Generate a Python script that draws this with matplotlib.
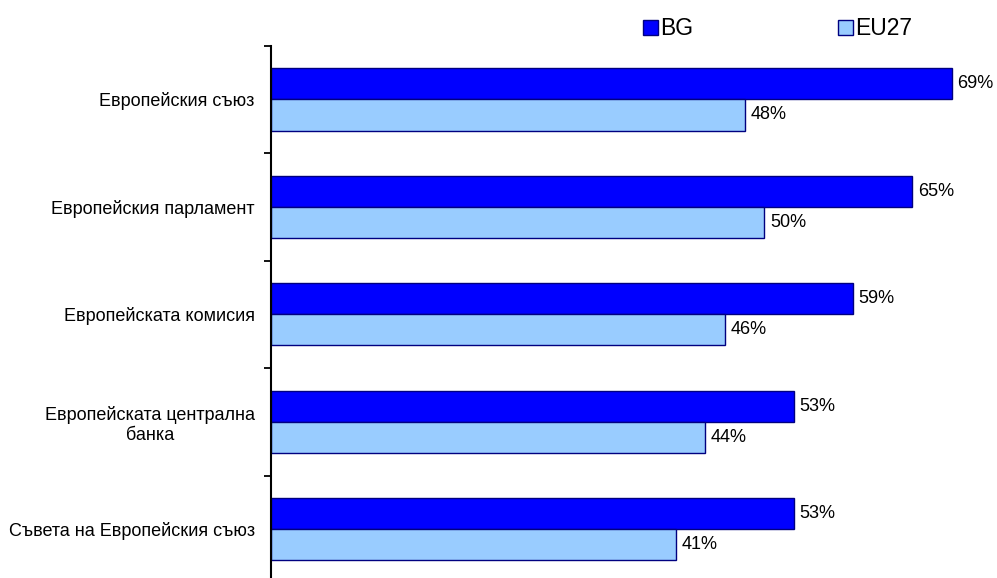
import matplotlib
matplotlib.use('Agg')
import matplotlib.pyplot as plt
import numpy as np

# data
categories = ['Европейския съюз', 'Европейския парламент', 'Европейската комисия',
              'Европейската централна\nбанка', 'Съвета на Европейския съюз']
bg = [69, 65, 59, 53, 53]
eu27 = [48, 50, 46, 44, 41]
series_names = ['BG', 'EU27']

plt.rcParams['font.family'] = ['Liberation Sans', 'DejaVu Sans']
fs = 13

fig = plt.figure(figsize=(9.97, 5.78), dpi=100)
ax = fig.add_axes([0.2723, -0.0086, 0.712, 0.9296])

y = np.arange(len(categories))
h = 0.29
b1 = ax.barh(y - h / 2, bg, height=h, color='#0000FF', edgecolor='#000080', linewidth=1, label=series_names[0])
b2 = ax.barh(y + h / 2, eu27, height=h, color='#99CCFF', edgecolor='#000080', linewidth=1, label=series_names[1])

for bars in (b1, b2):
    for r in bars:
        w = r.get_width()
        ax.annotate('%d%%' % w, xy=(w, r.get_y() + r.get_height() / 2), xytext=(4, 0),
                    textcoords='offset points', ha='left', va='center', fontsize=fs)

ax.set_xlim(0, 72)
ax.set_ylim(len(categories) - 0.5, -0.5)

# boundary ticks
ax.set_yticks(np.arange(-0.5, len(categories), 1.0))
ax.set_yticklabels([])
ax.tick_params(axis='y', which='major', direction='out', length=5, width=1.3)
# category labels
ax.set_yticks(y, minor=True)
ax.set_yticklabels(categories, minor=True, fontsize=fs, multialignment='center')
ax.tick_params(axis='y', which='minor', length=0, pad=12)

ax.set_xticks([])
for s in ['top', 'right', 'bottom']:
    ax.spines[s].set_visible(False)
ax.spines['left'].set_linewidth(1.5)

fig.legend(handles=[b1, b2], loc='upper left', bbox_to_anchor=(0.645, 0.97), ncol=2,
           frameon=False, fontsize=16.5, handlelength=0.65, handleheight=0.65,
           handletextpad=0.1, columnspacing=6.3, borderaxespad=0, borderpad=0)

plt.savefig('out.png', dpi=100)
